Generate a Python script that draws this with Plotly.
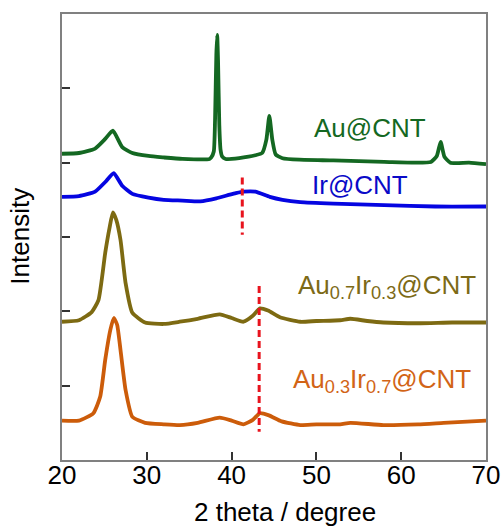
import plotly.graph_objects as go

# ---- data (2theta in degree, intensity in stacked offset units) ----
au_x = [20, 22, 23.9, 25.1, 26.0, 27.1, 28.3, 30.2, 32, 34.2, 37.4, 37.6, 37.9, 38.05, 38.2, 38.3,
        38.4, 38.55, 38.7, 38.9, 39.3, 40, 42, 42.8, 43.6, 44.1, 44.45, 44.8, 45.2, 46, 48, 52,
        58, 63.5, 64.2, 64.65, 65.1, 65.8, 68, 70]
au_y = [4.12, 4.13, 4.19, 4.32, 4.43, 4.21, 4.13, 4.09, 4.07, 4.05, 4.05, 4.07, 4.15, 4.58, 5.45, 5.72,
        5.38, 4.51, 4.17, 4.08, 4.05, 4.05, 4.08, 4.10, 4.13, 4.31, 4.63, 4.31, 4.11, 4.06, 4.04, 4.03,
        4.01, 4.01, 4.09, 4.28, 4.08, 4.00, 4.00, 3.98]

ir_x = [20, 22, 23.9, 25.1, 26.1, 27.1, 28.3, 30.2, 32, 34.2, 36.3, 38.2, 39.8, 40.5, 41.4, 42.8,
        44.5, 46, 48.1, 52, 58, 64, 70]
ir_y = [3.54, 3.55, 3.61, 3.74, 3.86, 3.69, 3.58, 3.53, 3.50, 3.49, 3.48, 3.52, 3.57, 3.59, 3.61, 3.61,
        3.54, 3.50, 3.47, 3.45, 3.43, 3.41, 3.41]

a73_x = [20, 22, 23.5, 24.3, 25.1, 25.6, 26.0, 26.4, 26.9, 27.5, 28.3, 29.8, 32, 33.9, 36, 38.6,
         40, 41.4, 42.5, 43.35, 44.3, 45.7, 48.1, 50, 52.8, 54, 56, 57.9, 62, 66, 70]
a73_y = [1.86, 1.88, 1.99, 2.15, 2.79, 3.12, 3.33, 3.23, 2.96, 2.38, 1.98, 1.85, 1.83, 1.86, 1.90, 1.96,
         1.91, 1.86, 1.94, 2.04, 2.01, 1.92, 1.86, 1.87, 1.88, 1.90, 1.87, 1.85, 1.84, 1.85, 1.85]

a37_x = [20, 22, 23.7, 24.5, 25.1, 25.7, 26.1, 26.5, 26.9, 27.5, 28.3, 29.8, 32, 33.9, 36, 38.6,
         40, 41.4, 42.5, 43.35, 44.4, 45.9, 48.1, 50, 52.8, 54, 57.9, 62, 65, 70]
a37_y = [0.53, 0.53, 0.63, 0.85, 1.35, 1.75, 1.91, 1.82, 1.48, 0.94, 0.58, 0.50, 0.48, 0.47, 0.50, 0.57,
         0.53, 0.48, 0.54, 0.63, 0.60, 0.52, 0.47, 0.48, 0.48, 0.50, 0.47, 0.48, 0.50, 0.53]

# reference peak markers (dashed lines)
ref1_x = [41.26, 41.26]
ref1_y = [3.80, 3.03]
ref2_x = [43.25, 43.25]
ref2_y = [2.34, 0.38]

labels = ["Au@CNT", "Ir@CNT", "Au<sub>0.7</sub>Ir<sub>0.3</sub>@CNT", "Au<sub>0.3</sub>Ir<sub>0.7</sub>@CNT"]
label_x = [56.33, 55.15, 58.27, 57.71]
label_y = [4.46, 3.70, 2.33, 1.07]

x_ticks = [20, 30, 40, 50, 60, 70]
y_ticks = [0, 1, 2, 3, 4, 5, 6]

colors = ["rgb(20,104,34)", "rgb(5,5,225)", "rgb(125,106,18)", "rgb(204,92,10)"]
label_colors = ["rgb(20,104,34)", "rgb(10,10,200)", "rgb(125,106,22)", "rgb(210,100,22)"]

FONT = "Arial, Liberation Sans, sans-serif"

fig = go.Figure()
for xs, ys, c in [(au_x, au_y, colors[0]), (ir_x, ir_y, colors[1]),
                  (a73_x, a73_y, colors[2]), (a37_x, a37_y, colors[3])]:
    fig.add_trace(go.Scatter(x=xs, y=ys, mode="lines",
                             line=dict(color=c, width=3.8, shape="spline", smoothing=0.5),
                             showlegend=False, hoverinfo="skip"))

for xs, ys in [(ref1_x, ref1_y), (ref2_x, ref2_y)]:
    fig.add_trace(go.Scatter(x=xs, y=ys, mode="lines",
                             line=dict(color="rgb(232,20,30)", width=3, dash="7px,4px"),
                             showlegend=False, hoverinfo="skip"))

annotations = []
for t, lx, ly, c in zip(labels, label_x, label_y, label_colors):
    annotations.append(dict(x=lx, y=ly, xref="x", yref="y", text=t, showarrow=False,
                            xanchor="center", yanchor="middle",
                            font=dict(family=FONT, size=26, color=c)))

annotations.append(dict(x=0.526, y=-0.117, xref="paper", yref="paper", text="2 theta / degree",
                        showarrow=False, xanchor="center", yanchor="middle",
                        font=dict(family=FONT, size=26, color="black")))
annotations.append(dict(x=-0.094, y=0.501, xref="paper", yref="paper", text="Intensity",
                        showarrow=False, xanchor="center", yanchor="middle", textangle=-90,
                        xshift=-3,
                        font=dict(family=FONT, size=26, color="black")))

fig.update_layout(
    width=502, height=526,
    margin=dict(l=62, r=16, t=14, b=66, autoexpand=False),
    paper_bgcolor="white", plot_bgcolor="white",
    annotations=annotations,
    font=dict(family=FONT, size=26, color="black"),
)
fig.update_xaxes(range=[20, 70], tickvals=x_ticks, ticks="inside", ticklen=8, tickwidth=1.5,
                 tickcolor="#333", showline=True, linecolor="#808080", linewidth=2, mirror=True,
                 showgrid=False, zeroline=False, ticklabelstandoff=-9, automargin=False,
                 ticklabeloverflow="allow",
                 tickfont=dict(family=FONT, size=26, color="black"))
fig.update_yaxes(range=[0, 6], tickvals=y_ticks, ticks="inside", ticklen=8, tickwidth=1.5,
                 tickcolor="#333", showline=True, linecolor="#808080", linewidth=2, mirror=True,
                 showgrid=False, zeroline=False, showticklabels=False, automargin=False)

fig.write_html("out.html")
